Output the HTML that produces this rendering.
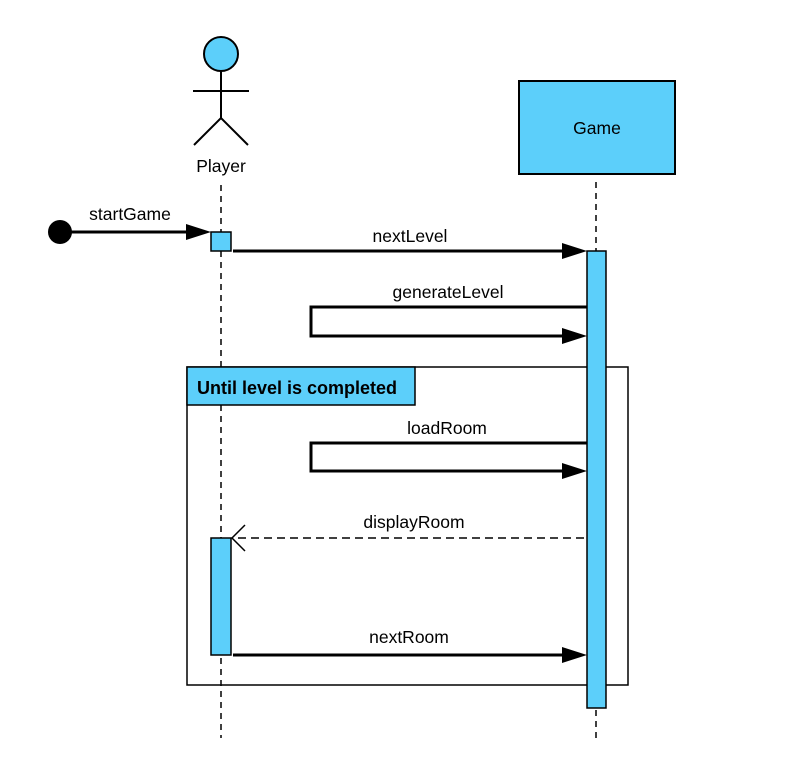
<!DOCTYPE html>
<html><head><style>body{margin:0;background:#fff}svg{display:block}text{font-family:"Liberation Sans",sans-serif;font-size:17.5px;fill:#000}</style></head>
<body>
<svg width="797" height="779" viewBox="0 0 797 779">
<g stroke="#000" stroke-width="1.5" stroke-dasharray="6,5" fill="none">
<line x1="221" y1="185" x2="221" y2="738"/>
<line x1="596" y1="182" x2="596" y2="738"/>
</g>
<circle cx="221" cy="54" r="17" fill="#5ccffa" stroke="#000" stroke-width="2"/>
<g stroke="#000" stroke-width="2" fill="none">
<line x1="221" y1="71" x2="221" y2="118"/>
<line x1="193" y1="91" x2="249" y2="91"/>
<polyline points="194,145 221,118 248,145"/>
</g>
<text x="221" y="172" text-anchor="middle">Player</text>
<rect x="519" y="81" width="156" height="93" fill="#5ccffa" stroke="#000" stroke-width="2"/>
<text x="597" y="134" text-anchor="middle">Game</text>
<rect x="187" y="367" width="441" height="318" fill="none" stroke="#000" stroke-width="1.5"/>
<rect x="187" y="367" width="228" height="38" fill="#5ccffa" stroke="#000" stroke-width="1.5"/>
<text x="197" y="394" style="font-weight:bold;font-size:18px">Until level is completed</text>
<rect x="587" y="251" width="19" height="457" fill="#5ccffa" stroke="#000" stroke-width="1.5"/>
<rect x="211" y="232" width="20" height="19" fill="#5ccffa" stroke="#000" stroke-width="1.5"/>
<rect x="211" y="538" width="20" height="117" fill="#5ccffa" stroke="#000" stroke-width="1.5"/>
<circle cx="60" cy="232" r="12" fill="#000"/>
<g stroke="#000" stroke-width="3" fill="none">
<line x1="60" y1="232" x2="186" y2="232"/>
<line x1="233" y1="251" x2="562" y2="251"/>
<polyline points="587,307 311,307 311,336 562,336"/>
<polyline points="587,443 311,443 311,471 562,471"/>
<line x1="233" y1="655" x2="562" y2="655"/>
</g>
<g fill="#000">
<path d="M186,224 L211,232 L186,240Z"/>
<path d="M562,243 L587,251 L562,259Z"/>
<path d="M562,328 L587,336 L562,344Z"/>
<path d="M562,463 L587,471 L562,479Z"/>
<path d="M562,647 L587,655 L562,663Z"/>
</g>
<line x1="584" y1="538" x2="234" y2="538" stroke="#000" stroke-width="1.5" stroke-dasharray="8,5"/>
<polyline points="245,525 232,538 245,551" fill="none" stroke="#000" stroke-width="1.5"/>
<text x="130" y="220" text-anchor="middle">startGame</text>
<text x="410" y="242" text-anchor="middle">nextLevel</text>
<text x="448" y="298" text-anchor="middle">generateLevel</text>
<text x="447" y="434" text-anchor="middle">loadRoom</text>
<text x="414" y="528" text-anchor="middle">displayRoom</text>
<text x="409" y="643" text-anchor="middle">nextRoom</text>
</svg>
</body></html>
